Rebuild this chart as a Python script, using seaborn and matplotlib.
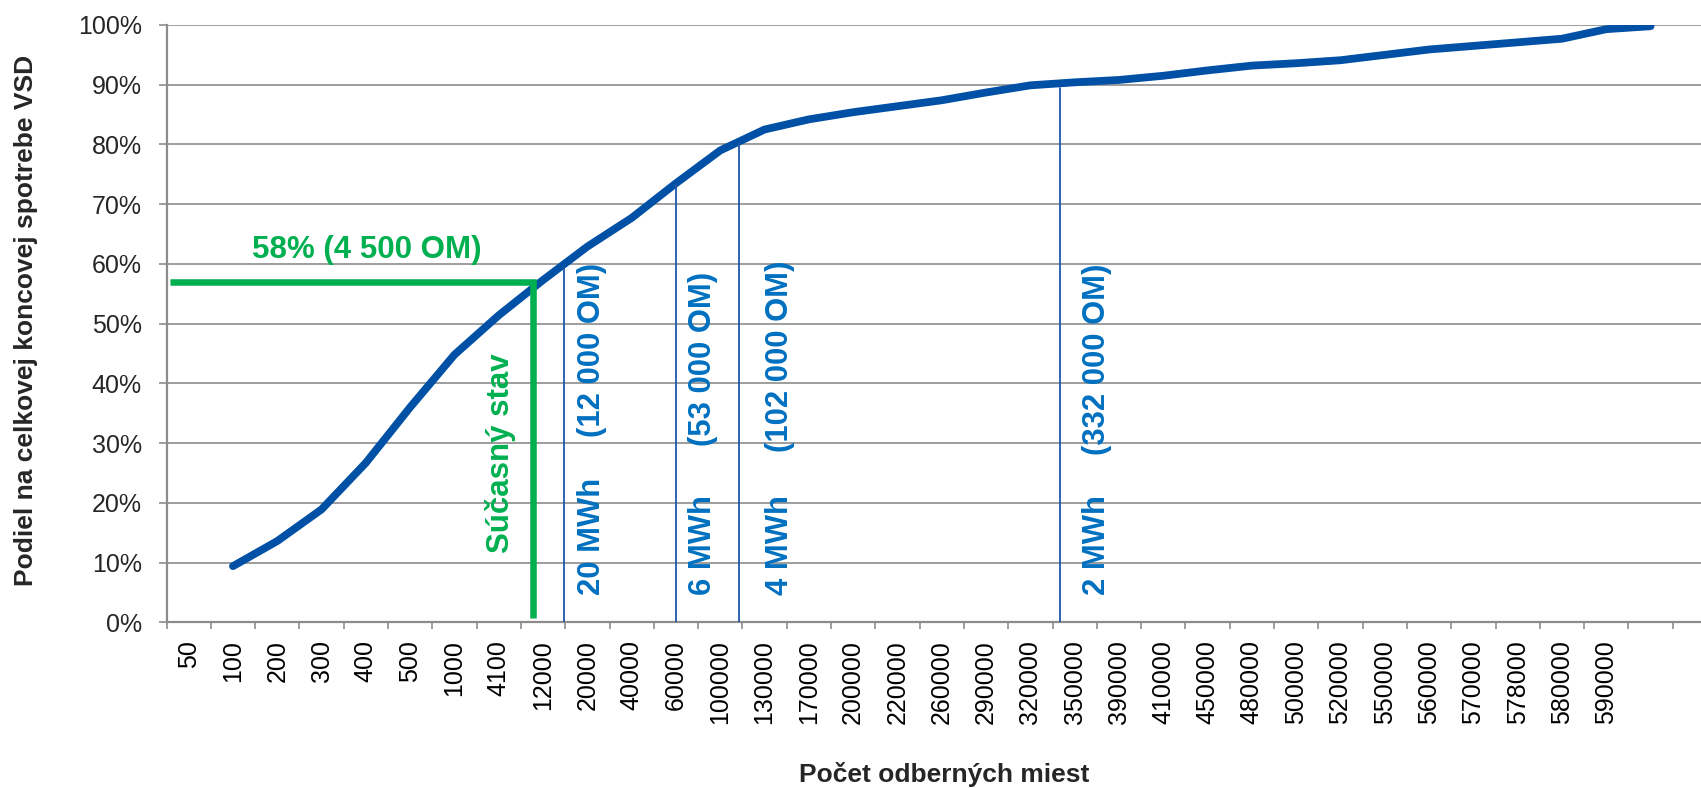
import numpy as np
import pandas as pd
import matplotlib
matplotlib.use("Agg")
import matplotlib.pyplot as plt
import seaborn as sns
from matplotlib.ticker import PercentFormatter

# ---- data -------------------------------------------------------------
categories = ["50", "100", "200", "300", "400", "500", "1000", "4100", "12000",
              "20000", "40000", "60000", "100000", "130000", "170000", "200000",
              "220000", "260000", "290000", "320000", "350000", "390000",
              "410000", "450000", "480000", "500000", "520000", "550000",
              "560000", "570000", "578000", "580000", "590000", ""]
share = [np.nan, 0.094, 0.136, 0.189, 0.267, 0.360, 0.448, 0.514, 0.573,
         0.629, 0.677, 0.735, 0.790, 0.825, 0.842, 0.854, 0.864, 0.874,
         0.887, 0.899, 0.904, 0.908, 0.915, 0.924, 0.932, 0.936, 0.941,
         0.950, 0.959, 0.965, 0.971, 0.977, 0.993, 0.998]

threshold_energy = ["20 MWh", "6 MWh", "4 MWh", "2 MWh"]
threshold_count = ["(12 000 OM)", "(53 000 OM)", "(102 000 OM)", "(332 000 OM)"]
current_share = 0.57
current_label = "58% (4 500 OM)"
current_text = "Súčasný stav"
x_title = "Počet odberných miest"
y_title = "Podiel na celkovej koncovej spotrebe VSD"

# annotation placement (category-axis coordinates)
threshold_x = [8.48, 11.0, 12.43, 19.66]
threshold_top = [0.595, 0.732, 0.802, 0.895]
energy_x = [9.10, 11.61, 13.35, 20.50]
count_top = [0.601, 0.587, 0.606, 0.601]
current_x = 7.77

# ---- style ------------------------------------------------------------
sns.set_style("white")
plt.rcParams["font.family"] = ["Liberation Sans", "DejaVu Sans"]

W, H = 1701, 788
fig = plt.figure(figsize=(W / 100, H / 100), dpi=100)
left, right, y0, y100 = 166.5, 1701, 622.3, 25
ax = fig.add_axes([left / W, 1 - y0 / H, (right - left) / W, (y0 - y100) / H])

GRID = "#8C8C8C"
LINE = "#0050A5"
THIN = "#1F57AA"
TXT_BLUE = "#0070C0"
GREEN = "#00B050"

df = pd.DataFrame({"pos": np.arange(len(categories)), "share": share}).dropna()
sns.lineplot(data=df, x="pos", y="share", ax=ax, color=LINE, linewidth=5.6,
             solid_capstyle="round", solid_joinstyle="round", zorder=3)

# axes
ax.set_xlim(-0.5, -0.5 + (right - left) / 44.3)
ax.set_ylim(0, 1)
ax.set_xlabel("")
ax.set_ylabel("")
ax.set_xticks(np.arange(len(categories)))
ax.set_xticklabels(categories, rotation=90)
ax.set_xticks(np.arange(len(categories) + 1) - 0.5, minor=True)
ax.tick_params(axis="x", which="major", length=0, pad=12.7, labelsize=18,
               labelcolor="black")
ax.tick_params(axis="x", which="minor", length=5.2, width=1.2, color=GRID,
               direction="out", bottom=True)
ax.set_yticks(np.arange(0, 1.001, 0.1))
ax.yaxis.set_major_formatter(PercentFormatter(1.0, decimals=0))
ax.tick_params(axis="y", length=5.6, width=1.2, color=GRID, pad=12.2,
               labelsize=18, direction="out", left=True)
ax.yaxis.grid(True, color=GRID, linewidth=1.2)
ax.xaxis.grid(False)
ax.set_axisbelow(True)
for s in ["top", "right"]:
    ax.spines[s].set_visible(False)
for s in ["left", "bottom"]:
    ax.spines[s].set_color(GRID)
    ax.spines[s].set_linewidth(1.6)

# threshold lines and labels
for xv, top, e, c, ex, ct in zip(threshold_x, threshold_top, threshold_energy,
                                 threshold_count, energy_x, count_top):
    ax.plot([xv, xv], [0, top], color=THIN, linewidth=1.3, zorder=4)
    ax.text(ex, 0.045, e, rotation=90, ha="center", va="bottom",
            fontsize=22.3, fontweight="bold", color=TXT_BLUE, zorder=5)
    ax.text(ex, ct, c, rotation=90, ha="center", va="top",
            fontsize=22.3, fontweight="bold", color=TXT_BLUE, zorder=5)

# current state marker
ax.plot([-0.414, current_x, current_x], [current_share, current_share, 0.0067],
        color=GREEN, linewidth=4.7, solid_joinstyle="miter",
        solid_capstyle="butt", zorder=4)
ax.text(4.02, 0.610, current_label, ha="center", va="baseline",
        fontsize=22.5, fontweight="bold", color=GREEN, zorder=5)
ax.text(7.03, 0.1155, current_text, rotation=90, ha="center", va="bottom",
        fontsize=22.5, fontweight="bold", color=GREEN, zorder=5)

# axis titles
fig.text(26 / W, 1 - 320 / H, y_title, rotation=90, ha="center", va="center",
         fontsize=19, fontweight="bold")
fig.text(944 / W, 1 - 782 / H, x_title, ha="center", va="baseline",
         fontsize=19, fontweight="bold")

fig.savefig("out.png", dpi=100)
